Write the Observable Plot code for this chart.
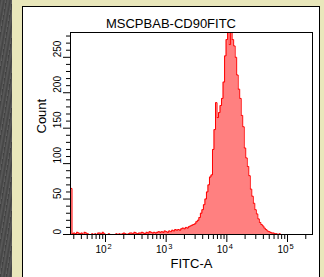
<!DOCTYPE html>
<html><head><meta charset="utf-8">
<script src="https://cdn.jsdelivr.net/npm/d3@7"></script>
<script src="https://cdn.jsdelivr.net/npm/@observablehq/plot@0.6"></script>
<style>
html,body{margin:0;padding:0;width:324px;height:277px;overflow:hidden;background:#e9e7bb;}
#wrap{position:relative;width:324px;height:277px;font-family:"Liberation Sans",Arial,sans-serif;}
#dark{position:absolute;left:0;top:0;width:12px;height:277px;background:repeating-linear-gradient(100deg,#3f3f3f 0px,#5a5a5a 2px,#444 4px,#606060 6px);}
#panel{position:absolute;left:22px;top:6px;width:298px;height:290px;background:#fff;border:1px solid #000;box-sizing:border-box;}
#title{position:absolute;left:23px;width:296px;top:17px;text-align:center;font-size:13px;line-height:13px;color:#000;}
#chart{position:absolute;left:0;top:0;}
</style></head>
<body>
<div id="wrap"><div id="dark"></div><div id="panel"></div><div id="title">MSCPBAB-CD90FITC</div><div id="chart"></div></div>
<script>
const title = "MSCPBAB-CD90FITC";
const xLabel = "FITC-A";
const yLabel = "Count";
// histogram bins: log10 of the first bin's lower edge and bin width (decades)
const binLog0 = 1.423;
const binStep = 0.0249;
const counts = [
  65,
  1,2,1,3,2, 1,2,0,3,2, 1,0,0,1,0, 1,0,2,2,1, 3,1,0,0,1, 0,0,0,0,1,
  0,1,0,1,2, 1,0,1,2,2, 1,3,2,1,2, 2,3,2,1,3, 2,4,3,2,3, 2,3,4,3,4,
  3,5,4,3,5, 4,6,5,7,6, 7,6,8,9,8, 10,9,11,12,13,
  14,15,18,20,24, 30,35,42,50,60, 70,81,84,120,148,
  186,165,172,182,192, 215,252,275,292,268, 290,275,266,250,225,
  205,192,168,152,122, 108,96,83,64,54, 44,35,29,22,17,
  14,12,9,7,5, 4,3,2,2,1, 1,0,1,0,0
];
const xMajor = [100, 1000, 10000, 100000];
const xMinor = [30,40,50,60,70,80,90, 200,300,400,500,600,700,800,900,
  2000,3000,4000,5000,6000,7000,8000,9000,
  20000,30000,40000,50000,60000,70000,80000,90000, 200000];
const yMajor = [0, 50, 100, 150, 200, 250];
const yMinor = [10,20,30,40,60,70,80,90,110,120,130,140,160,170,180,190,210,220,230,240,260,270,280];

const pts = counts.map((c, i) => ({x: Math.pow(10, binLog0 + i * binStep), count: c}));
pts.push({x: Math.pow(10, binLog0 + counts.length * binStep), count: counts[counts.length - 1]});

const chart = Plot.plot({
  width: 324, height: 277,
  marginLeft: 70, marginRight: 12, marginTop: 32, marginBottom: 43,
  style: {background: "transparent", fontFamily: "'Liberation Sans', Arial, sans-serif", fontSize: "10px", color: "#000"},
  x: {type: "log", domain: [Math.pow(10, 1.423), Math.pow(10, 5.412)]},
  y: {domain: [0, 285]},
  marks: [
    Plot.areaY(pts, {x: "x", y: "count", curve: "step-after", fill: "#ff8080", clip: true}),
    Plot.line(pts, {x: "x", y: "count", curve: "step-after", stroke: "#ff0000", strokeWidth: 1, clip: true}),
    Plot.frame({stroke: "#000"}),
    Plot.axisX(xMinor, {tickSize: 5, tickFormat: () => "", label: null, stroke: "#000"}),
    Plot.axisX(xMajor, {tickSize: 8, tickFormat: () => "", label: null, stroke: "#000"}),
    Plot.text(xMajor, {x: d => d, text: () => "10", frameAnchor: "bottom", dy: 18, dx: 1, textAnchor: "end", fontSize: 10}),
    Plot.text(xMajor, {x: d => d, text: d => String(Math.round(Math.log10(d))), frameAnchor: "bottom", dy: 14, dx: 2, textAnchor: "start", fontSize: 7.5}),
    Plot.axisY(yMinor, {tickSize: 4, tickFormat: () => "", label: null, stroke: "#000"}),
    Plot.axisY(yMajor, {tickSize: 7, tickFormat: () => "", label: null, stroke: "#000"}),
    Plot.text(yMajor, {y: d => d, text: d => String(d), frameAnchor: "left", dx: -13, rotate: -90, fontSize: 10}),
    Plot.text([yLabel], {frameAnchor: "left", dx: -28.5, rotate: -90, fontSize: 13}),
    Plot.text([xLabel], {frameAnchor: "bottom", dy: 33, fontSize: 13})
  ]
});
document.getElementById("chart").appendChild(chart);
</script>
</body></html>
